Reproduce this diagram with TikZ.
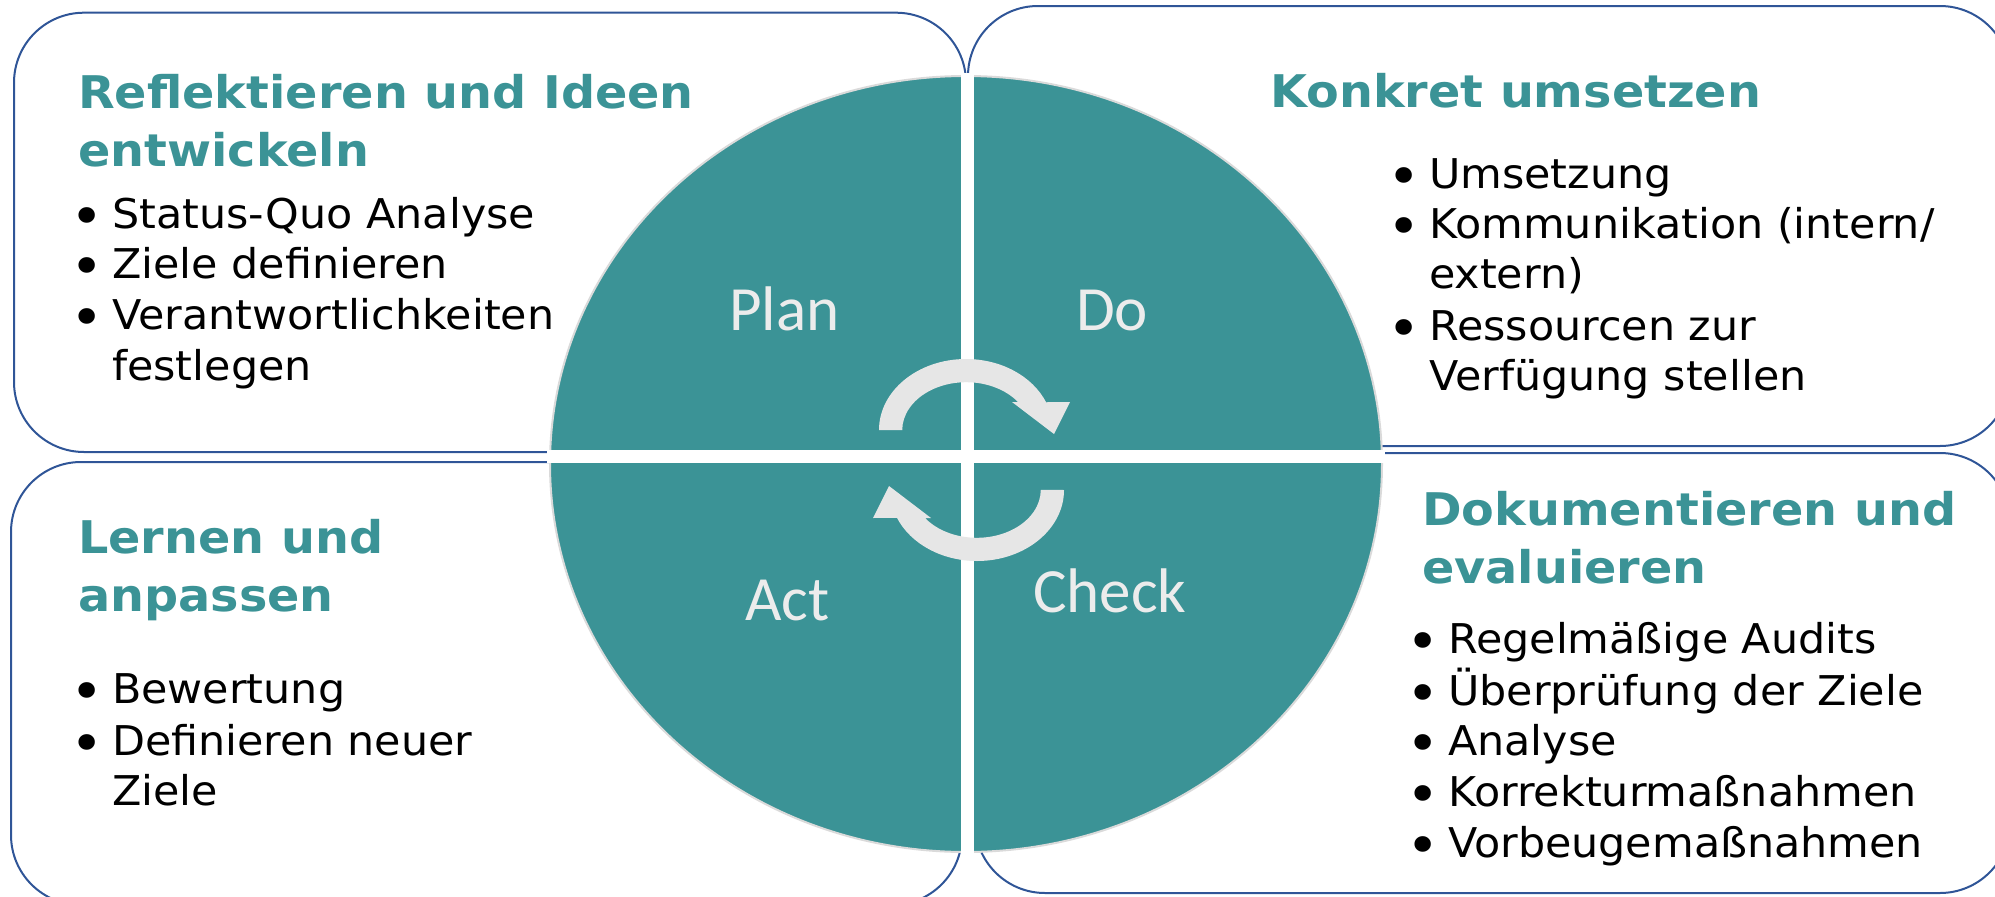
\documentclass[tikz,border=0pt]{standalone}
\usepackage{fontspec}
\setmainfont{DejaVu Sans}
\newfontfamily\titlefont[FakeStretch=1.06]{DejaVu Sans}
\newfontfamily\bodyfont[FakeStretch=1.045]{DejaVu Sans}
\newfontfamily\quadfont{Carlito}
\newcommand{\mybul}{\llap{\fontsize{54}{54}\selectfont\raisebox{-7.7pt}{\smash{•}}\hspace{8.1pt}}}
\definecolor{teal1}{RGB}{59,147,150}
\definecolor{boxblue}{RGB}{47,85,151}
\definecolor{rimgray}{RGB}{218,218,218}
\definecolor{lbl}{RGB}{236,236,236}
\definecolor{arr}{RGB}{230,230,230}
\begin{document}
\begin{tikzpicture}[x=1pt,y=-1pt,
  box/.style={draw=boxblue,line width=2pt,rounded corners=70pt},
  ttl/.style={font=\titlefont\bfseries\fontsize{45}{54}\selectfont,text=teal1,anchor=base west,inner sep=0pt},
  itm/.style={font=\bodyfont\fontsize{41}{50}\selectfont,text=black,anchor=base west,inner sep=0pt},
  qlab/.style={font=\quadfont\fontsize{63}{72}\selectfont,text=lbl,anchor=base west,inner sep=0pt}]
\useasboundingbox (0,0) rectangle (1995,897);
\clip (0,0) rectangle (1995,897);
% boxes
\draw[box] (14,12.7) rectangle (966,452);
\draw[box] (968,6) rectangle (2010,446);
\draw[box] (11,462) rectangle (962,905);
\draw[box] (975,453) rectangle (2010,893);
% circle
\fill[teal1,draw=rimgray,line width=2pt] (966,464) ellipse [x radius=416,y radius=388];
\begin{scope}
\clip (966,464) ellipse [x radius=419,y radius=391];
\fill[white] (960.5,0) rectangle (973.5,897);
\fill[white] (0,450) rectangle (1995,463);
\end{scope}
% arrows
\fill[arr] (879,430) arc[start angle=180,end angle=337,x radius=87,y radius=71] -- (1070,402) -- (1054,434) -- (1012,402) -- (1018,402) arc[start angle=324,end angle=180,x radius=64,y radius=48] -- cycle;
\fill[arr,rotate around={180:(971.5,460)}] (879,430) arc[start angle=180,end angle=337,x radius=87,y radius=71] -- (1070,402) -- (1054,434) -- (1012,402) -- (1018,402) arc[start angle=324,end angle=180,x radius=64,y radius=48] -- cycle;
% quadrant labels
\node[qlab] (plan) at (729,330) {Plan};
\node[qlab] (do) at (1076,330) {Do};
\node[qlab] (act) at (745,620) {Act};
\node[qlab] (check) at (1033,612) {Check};
% top left
\node[ttl] (tla) at (78,108) {Reflektieren und Ideen};
\node[ttl] (tlb) at (78,166) {entwickeln};
\node[itm] (tl1) at (112,228) {\mybul Status-Quo Analyse};
\node[itm] (tl2) at (112,278) {\mybul Ziele definieren};
\node[itm] (tl3) at (112,329) {\mybul Verantwortlichkeiten};
\node[itm] (tl4) at (112,380) {festlegen};
% top right
\node[ttl] (tra) at (1270,107) {Konkret umsetzen};
\node[itm] (tr1) at (1429,188) {\mybul Umsetzung};
\node[itm] (tr2) at (1429,238) {\mybul Kommunikation (intern/};
\node[itm] (tr3) at (1429,288) {extern)};
\node[itm] (tr4) at (1429,340) {\mybul Ressourcen zur};
\node[itm] (tr5) at (1429,390) {Verfügung stellen};
% bottom left
\node[ttl] (bla) at (78,553) {Lernen und};
\node[ttl] (blb) at (78,611) {anpassen};
\node[itm] (bl1) at (112,703) {\mybul Bewertung};
\node[itm] (bl2) at (112,755) {\mybul Definieren neuer};
\node[itm] (bl3) at (112,805) {Ziele};
% bottom right
\node[ttl] (bra) at (1422,525) {Dokumentieren und};
\node[ttl] (brb) at (1422,583) {evaluieren};
\node[itm] (br1) at (1448,653) {\mybul Regelmäßige Audits};
\node[itm] (br2) at (1448,705) {\mybul Überprüfung der Ziele};
\node[itm] (br3) at (1448,755) {\mybul Analyse};
\node[itm] (br4) at (1448,806) {\mybul Korrekturmaßnahmen};
\node[itm] (br5) at (1448,857) {\mybul Vorbeugemaßnahmen};
\end{tikzpicture}
\end{document}
